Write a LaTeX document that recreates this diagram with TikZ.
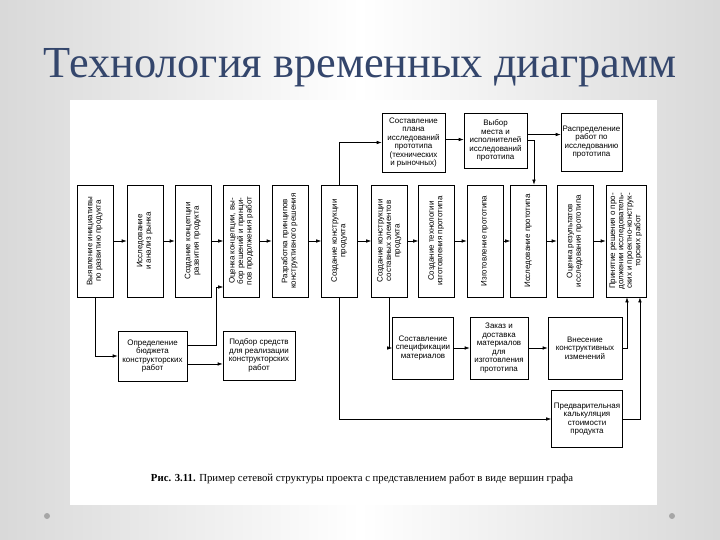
\documentclass[tikz,border=0pt]{standalone}
\usepackage{fontspec}
\setmainfont{Liberation Serif}
\newfontfamily\boxfont{Liberation Sans}
\usetikzlibrary{arrows.meta,positioning,calc}
\definecolor{titleblue}{RGB}{52,70,108}

% rotated text for the tall boxes
\newcommand{\vtext}[1]{\rotatebox{90}{\begin{tabular}{@{}c@{}}#1\end{tabular}}}

\begin{document}
\begin{tikzpicture}[x=1bp,y=-1bp,
  taskbox/.style={draw,line width=0.6bp,fill=white,align=center,inner sep=1bp,
    font=\boxfont\fontsize{8}{8.5}\selectfont},
  vtask/.style={taskbox,minimum width=36bp,minimum height=112bp},
  arr/.style={-{Latex[length=5bp,width=3.5bp]},line width=0.6bp},
]
  % slide background
  \shade[left color=gray!30,right color=gray!30,middle color=white] (0,0) rectangle (720,540);
  \useasboundingbox (0,0) rectangle (720,540);
  \fill[white] (70,100) rectangle (657,505);
  \node[font=\fontsize{44.5}{44.5}\selectfont,text=titleblue,anchor=base] (title) at (360,78)
    {Технология временных диаграмм};
  \fill[gray!70] (47,516) circle (3);
  \fill[gray!70] (672,516) circle (3);

  % main chain of tasks
  \foreach \n/\x/\t in {
    1/95/{Выявление инициативы\\по развитию продукта},
    2/145/{Исследование\\и анализ рынка},
    3/193/{Создание концепции\\развития продукта},
    4/241.5/{Оценка концепции, вы-\\бор решений и принци-\\пов продолжения работ},
    5/290/{Разработка принципов\\конструктивного решения},
    6/339.5/{Создание конструкции\\продукта},
    7/389.5/{Создание конструкции\\составных элементов\\продукта},
    8/436.5/{Создание технологии\\изготовления прототипа},
    9/485/{Изготовление прототипа},
    10/528.5/{Исследование прототипа},
    11/575/{Оценка результатов\\исследования прототипа}} {
    \node[vtask] (v\n) at (\x,241) {\vtext{\t}};
  }
  \node[vtask,minimum width=40bp] (v12) at (626,241)
    {\vtext{Принятие решения о про-\\должении исследователь-\\ских и проектно-конструк-\\торских работ}};

  \foreach \a/\b in {1/2,2/3,3/4,4/5,5/6,6/7,7/8,8/9,9/10,10/11,11/12}
    \draw[arr] (v\a) -- (v\b);

  % prototype research
  \node[taskbox,minimum width=63bp,minimum height=59bp] (plan) at (413.5,142.5)
    {Составление\\плана\\исследований\\прототипа\\(технических\\и рыночных)};
  \node[taskbox,minimum width=63bp,minimum height=55bp] (choice) at (495.5,140.5)
    {Выбор\\места и\\исполнителей\\исследований\\прототипа};
  \node[taskbox,minimum width=61bp,minimum height=58bp] (distr) at (591.5,142)
    {Распределение\\работ по\\исследованию\\прототипа};

  \draw[arr] (v6.north) |- (plan.west);
  \draw[arr] ([yshift=3]plan.east) -- ([yshift=3]plan.east -| choice.west);
  \draw[arr] ([yshift=6]choice.east) -- ([yshift=6]choice.east -| distr.west);
  \draw[arr] (choice.east) -| ([xshift=5.5]v10.north);

  % design budget
  \node[taskbox,minimum width=69bp,minimum height=50bp] (budget) at (152.5,356)
    {Определение\\бюджета\\конструкторских\\работ};
  \node[taskbox,minimum width=72bp,minimum height=49bp] (tools) at (259,355.5)
    {Подбор средств\\для реализации\\конструкторских\\работ};
  \coordinate (bk) at (216,287);

  \draw[arr] (v1.south) |- (budget.west);
  \draw[arr] ([yshift=11]budget.east) -| (bk) -- (bk -| v4.west);
  \draw[arr] ([yshift=-8]budget.east) -- ([yshift=-8]budget.east -| tools.west);

  % materials and changes
  \node[taskbox,minimum width=61bp,minimum height=62bp] (spec) at (423,348)
    {Составление\\спецификации\\материалов};
  \node[taskbox,minimum width=58bp,minimum height=62bp] (order) at (499,348)
    {Заказ и\\доставка\\материалов\\для\\изготовления\\прототипа};
  \node[taskbox,minimum width=74bp,minimum height=62bp] (change) at (585,348)
    {Внесение\\конструктивных\\изменений};
  \node[taskbox,minimum width=71bp,minimum height=57bp] (calc) at (587,419)
    {Предварительная\\калькуляция\\стоимости\\продукта};

  \draw[arr] (v7.south) |- (spec.west);
  \draw[arr] (spec) -- (order);
  \draw[arr] (order) -- (change);
  \draw[arr] (v6.south) |- (calc.west);
  \draw[arr] (change.east) -| ([xshift=1]v12.south);
  \draw[arr] (calc.east) -| ([xshift=14]v12.south);

  % caption
  \node[font=\fontsize{10.8}{11}\selectfont,anchor=base] (caption) at (362,481)
    {\textbf{Рис. 3.11.} Пример сетевой структуры проекта с представлением работ в виде вершин графа};
\end{tikzpicture}
\end{document}
